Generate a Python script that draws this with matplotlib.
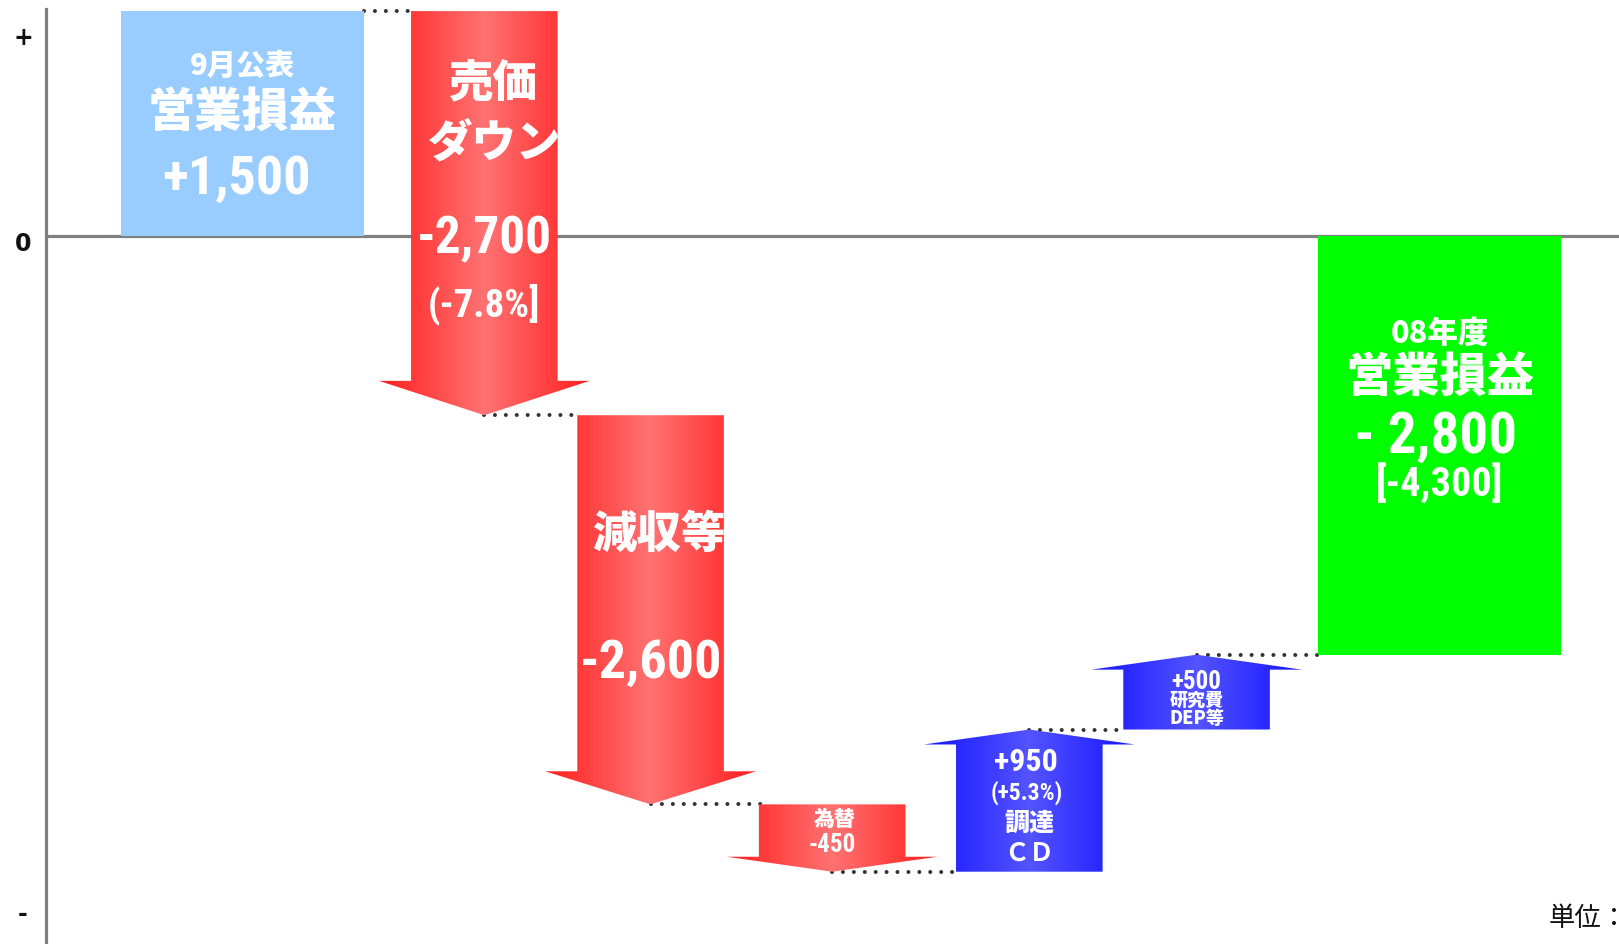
import os
import numpy as np
import matplotlib
matplotlib.use("Agg")
import matplotlib.pyplot as plt
from matplotlib import font_manager as fm
from matplotlib.font_manager import FontProperties
from matplotlib.patches import Polygon, Rectangle
from matplotlib.colors import LinearSegmentedColormap

# ---- data (単位：億円) ----
items = ["9月公表 営業損益", "売価ダウン", "減収等", "為替", "調達CD", "研究費 DEP等", "08年度 営業損益"]
values = [1500, -2700, -2600, -450, 950, 500, -2800]
is_total = [True, False, False, False, False, False, True]
value_labels = ["+1,500", "-2,700", "-2,600", "-450", "+950", "+500", "- 2,800"]
sub_labels = ["", "(-7.8%]", "", "", "(+5.3%)", "", "[-4,300]"]

# ---- waterfall spans ----
spans = []
level = 0
for v, tot in zip(values, is_total):
    if tot:
        spans.append((0, v))
        level = v
    else:
        spans.append((level, level + v))
        level += v


# ---- fonts: a narrow bold face file for the figures, if one is installed ----
def find_narrow_file():
    ranked = ["liberationsansnarrow-bold", "robotocondensed-bold", "dejavusanscondensed-bold",
              "notosans-condensedbold", "opensans-condensedbold"]
    files = {}
    for f in fm.fontManager.ttflist:
        base = os.path.splitext(os.path.basename(f.fname))[0].lower()
        files[base] = f.fname
    for key in ranked:
        for base, path in files.items():
            if base.replace("_", "-") == key or (key in base and "italic" not in base
                                                 and "oblique" not in base):
                return path
    return None


narrow_file = find_narrow_file()
if narrow_file:
    def num_font(size):
        return FontProperties(fname=narrow_file, size=size)
else:
    def num_font(size):
        return FontProperties(family=["Liberation Sans", "DejaVu Sans"], weight="bold",
                              size=size * 0.84)


def cjk_font(size, weight="black"):
    return FontProperties(family=["Noto Sans CJK JP", "DejaVu Sans"], weight=weight, size=size)


# ---- layout (x in shaft-width units) ----
widths = np.array([1.655, 1, 1, 1, 1, 1, 1.655])
gaps = np.array([0.324, 0.134, 0.239, 0.345, 0.141, 0.331])
lefts = np.concatenate([[0.0], np.cumsum(widths[:-1] + gaps)])
centers = lefts + widths / 2
head_half = 0.7185

red_cmap = LinearSegmentedColormap.from_list("red_grad", ["#FF1E1E", "#FF7272"])
blue_cmap = LinearSegmentedColormap.from_list("blue_grad", ["#1414FF", "#5454FF"])

fig = plt.figure(figsize=(16.19, 9.45), dpi=100)
ax = fig.add_axes([45.5 / 1619, 0, 1 - 45.5 / 1619, 1 - 10.3 / 945])
XLIM = (-0.515, 10.22)
YLIM = (-4733, 1512)

for side in ["top", "right", "bottom"]:
    ax.spines[side].set_visible(False)
ax.spines["left"].set_color("#808080")
ax.spines["left"].set_linewidth(2.3)
ax.set_xticks([])
ax.set_yticks([])

ax.axhline(0, color="#808080", lw=2.3, zorder=1)

N, C, CB = "num", "cjk", "cjk_bold"
# text lines per element: (text, size, kind, dx_px, dy_px from shaft centre)
text_lines = [
    [(items[0].split()[0], 21, C, 0, 58), (items[0].split()[1], 34, C, 0, 12),
     (value_labels[0], 39, N, -6, -55)],
    [("売価", 32, C, 8, 113), ("ダウン", 32, C, 10, 54),
     (value_labels[1], 37, N, 0, -42), (sub_labels[1], 28, N, 0, -107)],
    [("減収等", 32, C, 8, 60), (value_labels[2], 39, N, 0, -69)],
    [("為替", 15, C, 3, 12), (value_labels[3], 18, N, 0, -13)],
    [(value_labels[4], 23, N, -3, 47), (sub_labels[4], 17, N, -3, 16),
     ("調達", 18, C, 0, -14), ("ＣＤ", 18, CB, 0, -45)],
    [(value_labels[5], 18, N, 0, 19), ("研究費", 13, C, 0, 0), ("DEP等", 13, C, 0, -18)],
    [(items[6].split()[0], 22, C, 0, 113), (items[6].split()[1], 34, C, 0, 69),
     (value_labels[6], 41, N, -4, 9), (sub_labels[6], 29, N, 0, -37)],
]

box_colors = {0: "#99CCFF", 6: "#00FF00"}

for i, ((y0, y1), v) in enumerate(zip(spans, values)):
    c = centers[i]
    w = widths[i]
    if is_total[i]:
        lo, hi = min(y0, y1), max(y0, y1)
        patch = Rectangle((lefts[i], lo), w, hi - lo, facecolor=box_colors[i],
                          edgecolor="none", zorder=3)
        ax.add_patch(patch)
        mid = (lo + hi) / 2
    else:
        d = np.sign(y1 - y0)
        hl = max(0.085 * abs(v), 100)
        base = y1 - d * hl
        verts = [(c - 0.5, y0), (c + 0.5, y0), (c + 0.5, base), (c + head_half, base),
                 (c, y1), (c - head_half, base), (c - 0.5, base)]
        patch = Polygon(verts, closed=True, facecolor="none", edgecolor="none", zorder=3)
        ax.add_patch(patch)
        xs = np.linspace(-1, 1, 256)
        grad = (1 - np.abs(xs))[None, :]
        cmap = red_cmap if v < 0 else blue_cmap
        im = ax.imshow(grad, cmap=cmap, vmin=0, vmax=1, aspect="auto",
                       extent=[c - head_half, c + head_half, min(y0, y1), max(y0, y1)],
                       interpolation="bilinear", zorder=3)
        im.set_clip_path(patch)
        mid = (y0 + base) / 2
    for txt, size, kind, dx, dy in text_lines[i]:
        if kind == N:
            fp = num_font(size)
        elif kind == CB:
            fp = cjk_font(size, "bold")
        else:
            fp = cjk_font(size)
        t = ax.annotate(txt, xy=(c, mid), xytext=(dx, dy), textcoords="offset pixels",
                        ha="center", va="center", fontproperties=fp,
                        color="white", zorder=5)
        t.set_clip_path(patch)

# dotted connectors: from a box's right edge or an arrow's tip to the next shape
for i in range(len(values) - 1):
    y = spans[i][1]
    x_start = lefts[i] + widths[i] if is_total[i] else centers[i]
    x_end = lefts[i + 1] + 0.02
    ax.plot([x_start, x_end], [y, y], color="#333333", lw=2.9,
            linestyle=(0, (0.01, 2.7)), dash_capstyle="round", zorder=2, clip_on=False)

ax.set_xlim(*XLIM)
ax.set_ylim(*YLIM)

# axis sign labels
ytrans = ax.get_yaxis_transform()
lab_x = (23 - 45.5) / (1619 - 45.5)
ax.text(lab_x, 0.970, "+", transform=ax.transAxes, ha="center", va="center",
        fontsize=17, fontweight="bold", color="#111111", clip_on=False)
ax.annotate("0", xy=(lab_x, 0), xycoords=ytrans, xytext=(0, -7), textcoords="offset pixels",
            ha="center", va="center", fontsize=17, fontweight="bold", color="#111111",
            annotation_clip=False)
ax.text(lab_x, 0.033, "-", transform=ax.transAxes, ha="center", va="center",
        fontsize=17, fontweight="bold", color="#111111", clip_on=False)

fig.text(1549 / 1619, 1 - 919 / 945, "単位：", ha="left", va="center", fontsize=19,
         family=["Noto Sans CJK JP", "DejaVu Sans"], color="#111111")

fig.savefig("out.png", dpi=100)
